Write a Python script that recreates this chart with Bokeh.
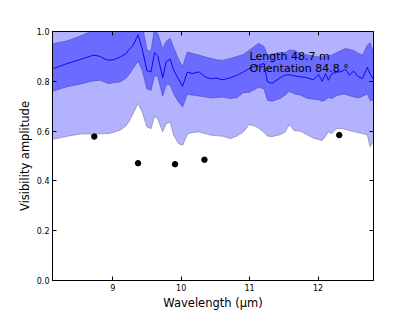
from bokeh.plotting import figure
from bokeh.models import Range1d, LinearAxis, FixedTicker, PrintfTickFormatter, Label, ColumnDataSource
from bokeh.embed import file_html
from bokeh.resources import INLINE

# model wavelengths (micron)
wavelength = [8.12, 8.33, 8.53, 8.72, 8.82, 8.88, 8.94, 9.02, 9.11, 9.19,
              9.24, 9.30, 9.37, 9.43, 9.50, 9.56, 9.61, 9.66, 9.73, 9.78,
              9.84, 9.89, 9.96, 10.02, 10.09, 10.16, 10.26, 10.35, 10.43, 10.51,
              10.60, 10.72, 10.82, 10.91, 10.99, 11.06, 11.13, 11.21, 11.26, 11.33,
              11.45, 11.52, 11.58, 11.65, 11.74, 11.83, 11.93, 12.01, 12.06, 12.11,
              12.15, 12.20, 12.27, 12.35, 12.40, 12.46, 12.52, 12.59, 12.65, 12.72,
              12.76, 12.81]
vis_mean = [0.850, 0.871, 0.888, 0.905, 0.900, 0.890, 0.885, 0.887, 0.898, 0.910,
            0.928, 0.945, 0.987, 0.930, 0.843, 0.838, 0.915, 0.900, 0.814, 0.878,
            0.889, 0.845, 0.810, 0.780, 0.837, 0.831, 0.838, 0.818, 0.810, 0.813,
            0.806, 0.814, 0.825, 0.838, 0.850, 0.858, 0.864, 0.872, 0.798, 0.792,
            0.815, 0.825, 0.826, 0.822, 0.818, 0.815, 0.806, 0.827, 0.800, 0.831,
            0.804, 0.831, 0.836, 0.840, 0.849, 0.825, 0.841, 0.818, 0.811, 0.856,
            0.830, 0.808]
inner_hi = [0.950, 0.962, 0.982, 1.005, 1.010, 0.995, 1.010, 0.993, 1.010, 1.020,
            1.030, 1.040, 1.060, 1.030, 0.925, 0.920, 1.010, 0.990, 0.930, 0.960,
            0.972, 0.935, 0.890, 0.858, 0.918, 0.912, 0.905, 0.898, 0.892, 0.887,
            0.884, 0.892, 0.900, 0.908, 0.924, 0.938, 0.952, 0.940, 0.905, 0.910,
            0.915, 0.915, 0.925, 0.925, 0.910, 0.906, 0.902, 0.898, 0.898, 0.900,
            0.903, 0.905, 0.915, 0.925, 0.932, 0.928, 0.924, 0.912, 0.905, 0.945,
            0.955, 0.912]
inner_lo = [0.760, 0.778, 0.789, 0.802, 0.804, 0.797, 0.791, 0.795, 0.798, 0.812,
            0.828, 0.852, 0.882, 0.845, 0.770, 0.764, 0.825, 0.818, 0.740, 0.786,
            0.786, 0.750, 0.718, 0.697, 0.748, 0.745, 0.741, 0.738, 0.733, 0.735,
            0.737, 0.731, 0.735, 0.755, 0.755, 0.765, 0.776, 0.770, 0.724, 0.720,
            0.732, 0.745, 0.760, 0.750, 0.745, 0.733, 0.728, 0.726, 0.720, 0.725,
            0.735, 0.731, 0.742, 0.748, 0.748, 0.742, 0.738, 0.733, 0.740, 0.750,
            0.723, 0.725]
outer_lo = [0.567, 0.579, 0.589, 0.588, 0.589, 0.590, 0.590, 0.596, 0.604, 0.620,
            0.640, 0.672, 0.712, 0.677, 0.617, 0.610, 0.660, 0.648, 0.597, 0.630,
            0.637, 0.584, 0.550, 0.543, 0.588, 0.594, 0.597, 0.590, 0.584, 0.582,
            0.580, 0.570, 0.581, 0.597, 0.626, 0.622, 0.612, 0.595, 0.580, 0.578,
            0.586, 0.597, 0.627, 0.602, 0.600, 0.587, 0.572, 0.566, 0.562, 0.580,
            0.597, 0.590, 0.610, 0.610, 0.607, 0.602, 0.598, 0.594, 0.590, 0.585,
            0.538, 0.560]

# observed visibilities
obs_wavelength = [8.73, 9.37, 9.91, 10.34, 12.31]
obs_vis = [0.578, 0.471, 0.467, 0.485, 0.584]

x_ticks = [9, 10, 11, 12]
y_ticks = [0.0, 0.2, 0.4, 0.6, 0.8, 1.0]

# upper outer bound mirrors the lower one about the mean (it lies above the axis top)
outer_hi = [2 * m - lo for m, lo in zip(vis_mean, outer_lo)]

src = ColumnDataSource(dict(x=wavelength, m=vis_mean, ihi=inner_hi, ilo=inner_lo,
                            olo=outer_lo, ohi=outer_hi))

p = figure(width=415, height=312, output_backend="svg", toolbar_location=None,
           x_range=Range1d(wavelength[0], wavelength[-1]), y_range=Range1d(0, 1),
           min_border_left=52, min_border_right=42, min_border_top=31, min_border_bottom=32)
p.background_fill_color = "white"
p.border_fill_color = "white"
p.outline_line_color = "black"
p.outline_line_width = 1
p.xgrid.visible = False
p.ygrid.visible = False

light = "#b2b2ff"
dark = "#6b6bff"
p.varea(x="x", y1="olo", y2="ohi", source=src, fill_color=light)
p.varea(x="x", y1="ilo", y2="ihi", source=src, fill_color=dark)
p.line(x="x", y="olo", source=src, line_color="#8a8ab0", line_width=0.8)
p.line(x="x", y="ilo", source=src, line_color="#5050b8", line_width=0.7)
p.line(x="x", y="ihi", source=src, line_color="#5050b8", line_width=0.7)
p.line(x="x", y="m", source=src, line_color="#0a0af0", line_width=1)
p.scatter(obs_wavelength, obs_vis, size=5.5, color="black")

font = "DejaVu Sans"
for ax in (p.xaxis[0], p.yaxis[0]):
    ax.major_tick_in = 4
    ax.major_tick_out = 0
    ax.minor_tick_line_color = None
    ax.major_label_text_font = font
    ax.major_label_text_font_size = "8px"
    ax.major_label_text_color = "black"
    ax.axis_label_text_font = font
    ax.axis_label_text_font_size = "11.5px"
    ax.axis_label_text_font_style = "normal"
    ax.axis_label_text_color = "black"
    ax.axis_line_color = "black"
    ax.major_tick_line_color = "black"

p.xaxis[0].ticker = FixedTicker(ticks=x_ticks)
p.yaxis[0].ticker = FixedTicker(ticks=y_ticks)
p.yaxis[0].formatter = PrintfTickFormatter(format="%.1f")
p.xaxis[0].axis_label = "Wavelength (μm)"
p.yaxis[0].axis_label = "Visibility amplitude"
p.xaxis[0].major_label_standoff = 3
p.xaxis[0].axis_label_standoff = 2
p.yaxis[0].major_label_standoff = 3
p.yaxis[0].axis_label_standoff = 2

top = LinearAxis(ticker=FixedTicker(ticks=x_ticks), major_tick_in=4, major_tick_out=0,
                 minor_tick_line_color=None, major_label_text_font_size="0px",
                 major_label_text_alpha=0, axis_line_color="black")
right = LinearAxis(ticker=FixedTicker(ticks=y_ticks), major_tick_in=4, major_tick_out=0,
                   minor_tick_line_color=None, major_label_text_font_size="0px",
                   major_label_text_alpha=0, axis_line_color="black")
p.add_layout(top, "above")
p.add_layout(right, "right")

p.add_layout(Label(x=11.0, y=0.9, text="Length 48.7 m", text_font=font,
                   text_font_size="11px", text_color="black", text_baseline="alphabetic"))
p.add_layout(Label(x=11.0, y=0.85, text="Orientation 84.8 °", text_font=font,
                   text_font_size="11px", text_color="black", text_baseline="alphabetic"))

open("out.html", "w").write(file_html(p, INLINE))
